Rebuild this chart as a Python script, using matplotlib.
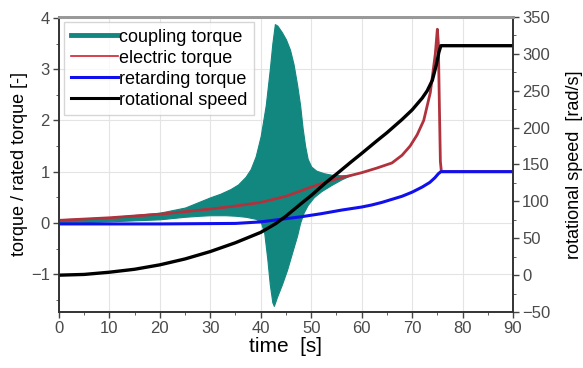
import numpy as np
import matplotlib.pyplot as plt
from matplotlib.lines import Line2D

plt.rcParams['font.family'] = ['Liberation Sans', 'DejaVu Sans']

# coupling torque: the fast oscillation is shown by its upper / lower envelope
t_cpl_hi = [0, 10, 20, 25, 28, 30, 32, 34, 35.5, 37, 38, 39, 40, 41, 41.8, 42.3, 42.8, 43.3,
            44.2, 45, 45.8, 46.5, 47.2, 47.8, 48.3, 48.8, 49.3, 50, 51, 52.5, 54, 56, 58]
cpl_hi = [0.07, 0.11, 0.2, 0.3, 0.42, 0.5, 0.57, 0.66, 0.75, 0.9, 1.05, 1.3, 1.7, 2.3, 3.0,
          3.5, 3.88, 3.85, 3.72, 3.58, 3.38, 3.1, 2.7, 2.3, 1.85, 1.5, 1.25, 1.1, 1.02, 0.97,
          0.94, 0.93, 0.94]
t_cpl_lo = [0, 10, 20, 25, 28, 30, 33, 35, 37, 39, 40, 40.7, 41.3, 41.8, 42.3, 42.6, 43.2,
            44.2, 45.2, 46.3, 47.2, 47.8, 48.5, 49.3, 50.5, 52, 54, 56, 58]
cpl_lo = [0.0, 0.03, 0.07, 0.12, 0.14, 0.15, 0.15, 0.14, 0.12, 0.08, 0.02, -0.2, -0.7, -1.2,
          -1.55, -1.62, -1.45, -1.2, -0.92, -0.55, -0.25, 0.0, 0.2, 0.35, 0.5, 0.62, 0.74,
          0.85, 0.94]

# electric torque
t_el = [0, 10, 20, 25, 30, 35, 40, 45, 50, 55, 58, 60, 63, 66, 68, 69.6, 71, 72.3, 73.6,
        74.6, 75.0, 75.2, 75.4, 75.6, 75.8, 90]
el = [0.05, 0.1, 0.17, 0.22, 0.27, 0.33, 0.4, 0.52, 0.7, 0.86, 0.93, 0.98, 1.07, 1.17, 1.32,
      1.5, 1.72, 2.0, 2.54, 3.3, 3.78, 3.5, 2.3, 1.2, 1.0, 1.0]

# retarding (load) torque
t_ret = [0, 20, 35, 40, 44, 48, 52, 56, 60, 62, 64, 66, 68, 70, 72, 73.5, 74.5, 75.2, 75.7, 90]
ret = [-0.02, -0.02, -0.01, 0.02, 0.07, 0.12, 0.18, 0.25, 0.31, 0.35, 0.4, 0.46, 0.52, 0.6,
       0.7, 0.79, 0.88, 0.96, 1.0, 1.0]

# rotational speed [rad/s]
t_spd = [0, 5, 10, 15, 20, 25, 30, 35, 40, 43, 45, 48, 50, 53, 55, 58, 60, 63, 65, 68, 70,
         72, 73, 74, 74.8, 75.3, 75.7, 90]
spd = [0, 1, 4, 8, 14, 22, 32, 44, 58, 70, 80, 97, 108, 126, 137, 154, 165, 182, 193, 211,
       224, 240, 250, 264, 285, 302, 311, 311]

teal = '#12877f'
fig, ax = plt.subplots(figsize=(5.83, 3.68), dpi=100)
fig.subplots_adjust(left=0.101, right=0.88, bottom=0.152, top=0.954)

ax.grid(True, color='#e4e4e4', lw=0.8)
ax.set_axisbelow(True)

# merge both envelopes on a common time base for the fill
t_fill = np.union1d(t_cpl_hi, t_cpl_lo)
ax.fill_between(t_fill, np.interp(t_fill, t_cpl_lo, cpl_lo), np.interp(t_fill, t_cpl_hi, cpl_hi),
                color=teal, lw=0.8, edgecolor=teal, zorder=2)
ax.plot(t_el, el, color='#b0323d', lw=2.0, zorder=3)
ax.plot(t_ret, ret, color='#1010ee', lw=2.2, zorder=4)

ax2 = ax.twinx()
ax2.plot(t_spd, spd, color='black', lw=2.4)

ax.set_xlim(0, 90)
ax.set_ylim(-1.74, 4.02)
ax2.set_ylim(-50, 350)
ax.set_xticks(np.arange(0, 91, 10))
ax.set_xticks(np.arange(0, 91, 5), minor=True)
ax.set_yticks(np.arange(-1, 5, 1))
ax.set_yticks(np.arange(-1.5, 4.01, 0.5), minor=True)
ax2.set_yticks(np.arange(-50, 351, 50))
ax2.set_yticks(np.arange(-50, 351, 25), minor=True)

for a in (ax, ax2):
    a.tick_params(labelsize=12, labelcolor='#4a4a4a', color='#444444', length=4, width=1, pad=2.5)
    a.tick_params(which='minor', length=2.5, color='#444444')
    for s in a.spines.values():
        s.set_color('#333333')
        s.set_linewidth(1.2)
    a.spines['top'].set_color('#999999')
    a.spines['top'].set_linewidth(2)

ax.set_xlabel('time  [s]', fontsize=15, labelpad=1)
ax.set_ylabel('torque / rated torque [-]', fontsize=13, labelpad=2)
ax2.set_ylabel('rotational speed  [rad/s]', fontsize=13, labelpad=11)

handles = [Line2D([], [], color=teal, lw=3.5),
           Line2D([], [], color='#d02030', lw=1.2),
           Line2D([], [], color='#1010ee', lw=2.2),
           Line2D([], [], color='black', lw=2.2)]
labels = ['coupling torque', 'electric torque', 'retarding torque', 'rotational speed']
leg = ax2.legend(handles, labels, loc='upper left', fontsize=13, frameon=True, fancybox=False,
                 handlelength=2.6, handletextpad=0.1, borderpad=0.35, labelspacing=0.22,
                 borderaxespad=0.3)
leg.get_frame().set_edgecolor('#cccccc')
leg.get_frame().set_linewidth(1)

plt.savefig('out.png', dpi=100)
